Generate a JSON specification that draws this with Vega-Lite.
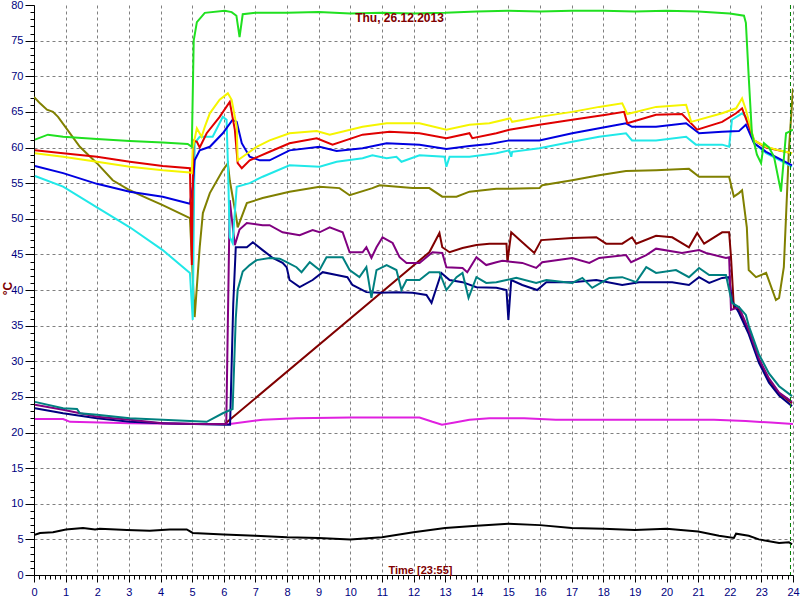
{
 "$schema": "https://vega.github.io/schema/vega-lite/v6.json",
 "width": 759, "height": 570,
 "autosize": "none",
 "padding": {"left": 34, "top": 5, "right": 7, "bottom": 25},
 "background": "#ffffff",
 "title": {"text": "Thu, 26.12.2013", "font": "Liberation Sans", "fontSize": 12, "fontWeight": "bold", "color": "#800000", "anchor": "middle", "frame": "group", "offset": -26, "dx": -14},
 "config": {"view": {"stroke": null}},
 "datasets": {
  "marker": [{"t": 23.92}],
  "series": [
{"s":"K","h":0,"v":5.6},{"s":"K","h":0.19,"v":5.9},{"s":"K","h":0.6,"v":6},{"s":"K","h":1.01,"v":6.4},{"s":"K","h":1.55,"v":6.6},{"s":"K","h":1.93,"v":6.4},{"s":"K","h":2.08,"v":6.5},{"s":"K","h":2.94,"v":6.3},{"s":"K","h":3.66,"v":6.2},{"s":"K","h":4.29,"v":6.4},{"s":"K","h":4.83,"v":6.4},{"s":"K","h":5.02,"v":5.9},{"s":"K","h":6,"v":5.7},{"s":"K","h":7,"v":5.5},{"s":"K","h":8,"v":5.3},{"s":"K","h":9,"v":5.2},{"s":"K","h":10,"v":5.0},{"s":"K","h":11,"v":5.3},{"s":"K","h":12,"v":6},{"s":"K","h":13,"v":6.6},{"s":"K","h":14,"v":6.9},{"s":"K","h":15,"v":7.2},{"s":"K","h":16,"v":7},{"s":"K","h":17,"v":6.6},{"s":"K","h":18,"v":6.5},{"s":"K","h":19,"v":6.3},{"s":"K","h":20,"v":6.5},{"s":"K","h":21,"v":6.1},{"s":"K","h":21.66,"v":5.5},{"s":"K","h":22.13,"v":5.2},{"s":"K","h":22.2,"v":5.8},{"s":"K","h":22.6,"v":5.5},{"s":"K","h":22.92,"v":5},{"s":"K","h":23.56,"v":4.5},{"s":"K","h":23.87,"v":4.6},{"s":"K","h":23.97,"v":4.3},

{"s":"Mg","h":0.03,"v":21.9},{"s":"Mg","h":0.92,"v":21.9},{"s":"Mg","h":1.14,"v":21.5},{"s":"Mg","h":3.03,"v":21.3},{"s":"Mg","h":5.15,"v":21.2},{"s":"Mg","h":6.19,"v":21.2},{"s":"Mg","h":7.23,"v":21.8},{"s":"Mg","h":8.3,"v":22},{"s":"Mg","h":10,"v":22.1},{"s":"Mg","h":11.56,"v":22.1},{"s":"Mg","h":12.19,"v":22.1},{"s":"Mg","h":12.6,"v":21.5},{"s":"Mg","h":12.9,"v":21.1},{"s":"Mg","h":13.3,"v":21.4},{"s":"Mg","h":13.77,"v":21.8},{"s":"Mg","h":14.4,"v":22},{"s":"Mg","h":15.5,"v":22},{"s":"Mg","h":16.5,"v":21.8},{"s":"Mg","h":18,"v":21.8},{"s":"Mg","h":20,"v":21.8},{"s":"Mg","h":21.5,"v":21.8},{"s":"Mg","h":22.5,"v":21.6},{"s":"Mg","h":23.3,"v":21.4},{"s":"Mg","h":24,"v":21.2},

{"s":"M","h":6.03,"v":21.2},{"s":"M","h":12.5,"v":45.3},{"s":"M","h":12.82,"v":48},{"s":"M","h":12.91,"v":46},{"s":"M","h":13.14,"v":45.3},{"s":"M","h":13.55,"v":45.9},{"s":"M","h":13.99,"v":46.3},{"s":"M","h":14.4,"v":46.5},{"s":"M","h":14.94,"v":46.5},{"s":"M","h":14.97,"v":43.9},{"s":"M","h":15.09,"v":48.1},{"s":"M","h":15.44,"v":46.7},{"s":"M","h":15.82,"v":45.2},{"s":"M","h":16.04,"v":47},{"s":"M","h":17.02,"v":47.3},{"s":"M","h":17.78,"v":47.4},{"s":"M","h":18.09,"v":46.5},{"s":"M","h":18.6,"v":46.5},{"s":"M","h":18.91,"v":47.4},{"s":"M","h":19.04,"v":46.5},{"s":"M","h":19.67,"v":47.6},{"s":"M","h":20.18,"v":47.4},{"s":"M","h":20.71,"v":46},{"s":"M","h":20.97,"v":48},{"s":"M","h":21.19,"v":46.5},{"s":"M","h":21.76,"v":48.1},{"s":"M","h":21.98,"v":48.1},{"s":"M","h":22.04,"v":44.6},{"s":"M","h":22.13,"v":37.5},{"s":"M","h":22.29,"v":37.3},{"s":"M","h":22.6,"v":34.2},{"s":"M","h":22.92,"v":30.2},{"s":"M","h":23.24,"v":27.4},{"s":"M","h":23.56,"v":25.5},{"s":"M","h":23.97,"v":24.1},

{"s":"N","h":0.03,"v":23.4},{"s":"N","h":0.92,"v":22.7},{"s":"N","h":1.99,"v":22},{"s":"N","h":3.03,"v":21.5},{"s":"N","h":4.07,"v":21.3},{"s":"N","h":6.03,"v":21.1},{"s":"N","h":6.2,"v":21.1},{"s":"N","h":6.3,"v":38},{"s":"N","h":6.38,"v":46},{"s":"N","h":6.73,"v":46},{"s":"N","h":6.92,"v":46.7},{"s":"N","h":7.23,"v":45.6},{"s":"N","h":7.55,"v":44.5},{"s":"N","h":7.86,"v":43.8},{"s":"N","h":7.99,"v":43.2},{"s":"N","h":8.08,"v":41.4},{"s":"N","h":8.4,"v":40.4},{"s":"N","h":8.81,"v":41.4},{"s":"N","h":9.13,"v":42.5},{"s":"N","h":9.57,"v":42.1},{"s":"N","h":9.91,"v":41.8},{"s":"N","h":10.07,"v":40.7},{"s":"N","h":10.51,"v":39.7},{"s":"N","h":10.93,"v":39.6},{"s":"N","h":11.46,"v":39.7},{"s":"N","h":11.97,"v":39.6},{"s":"N","h":12.41,"v":39.3},{"s":"N","h":12.57,"v":38.2},{"s":"N","h":12.88,"v":42.4},{"s":"N","h":13.14,"v":41.4},{"s":"N","h":13.55,"v":41.1},{"s":"N","h":13.99,"v":40.4},{"s":"N","h":14.62,"v":40.3},{"s":"N","h":14.94,"v":40},{"s":"N","h":15,"v":35.8},{"s":"N","h":15.09,"v":41.4},{"s":"N","h":15.44,"v":40.7},{"s":"N","h":15.91,"v":40},{"s":"N","h":16.2,"v":41.1},{"s":"N","h":17.02,"v":41.1},{"s":"N","h":17.78,"v":41.4},{"s":"N","h":18.6,"v":40.7},{"s":"N","h":19.13,"v":41.1},{"s":"N","h":20.18,"v":41.1},{"s":"N","h":20.71,"v":40.7},{"s":"N","h":21.03,"v":41.8},{"s":"N","h":21.35,"v":41},{"s":"N","h":21.76,"v":41.7},{"s":"N","h":21.98,"v":41.8},{"s":"N","h":22.07,"v":38.5},{"s":"N","h":22.2,"v":37.5},{"s":"N","h":22.29,"v":36.8},{"s":"N","h":22.6,"v":33.8},{"s":"N","h":22.92,"v":29.8},{"s":"N","h":23.24,"v":27},{"s":"N","h":23.56,"v":25.2},{"s":"N","h":23.97,"v":23.7},

{"s":"P","h":0.03,"v":23.9},{"s":"P","h":0.92,"v":23.2},{"s":"P","h":1.99,"v":22.2},{"s":"P","h":3.03,"v":21.8},{"s":"P","h":4.07,"v":21.3},{"s":"P","h":5.15,"v":21.2},{"s":"P","h":6.08,"v":21.2},{"s":"P","h":6.19,"v":52.6},{"s":"P","h":6.35,"v":46.3},{"s":"P","h":6.5,"v":48.5},{"s":"P","h":6.73,"v":49.4},{"s":"P","h":7.23,"v":49.1},{"s":"P","h":7.45,"v":49.1},{"s":"P","h":7.86,"v":48.1},{"s":"P","h":8.4,"v":47.7},{"s":"P","h":8.81,"v":48.4},{"s":"P","h":9.03,"v":48.1},{"s":"P","h":9.35,"v":48.8},{"s":"P","h":9.76,"v":48.1},{"s":"P","h":9.98,"v":45.3},{"s":"P","h":10.39,"v":45.3},{"s":"P","h":10.51,"v":46},{"s":"P","h":10.67,"v":44.5},{"s":"P","h":10.83,"v":46},{"s":"P","h":11.02,"v":47.4},{"s":"P","h":11.34,"v":46.6},{"s":"P","h":11.56,"v":44.6},{"s":"P","h":11.78,"v":43.8},{"s":"P","h":12.19,"v":43.8},{"s":"P","h":12.6,"v":45.3},{"s":"P","h":12.91,"v":45.2},{"s":"P","h":13.04,"v":43.2},{"s":"P","h":13.55,"v":43.1},{"s":"P","h":13.7,"v":42.5},{"s":"P","h":13.99,"v":44.6},{"s":"P","h":14.3,"v":43.5},{"s":"P","h":14.62,"v":43.9},{"s":"P","h":14.81,"v":44.1},{"s":"P","h":15.44,"v":43.8},{"s":"P","h":15.88,"v":43.1},{"s":"P","h":16.07,"v":43.9},{"s":"P","h":17.02,"v":44.5},{"s":"P","h":17.56,"v":43.8},{"s":"P","h":17.87,"v":44.5},{"s":"P","h":18.72,"v":44.9},{"s":"P","h":18.88,"v":43.9},{"s":"P","h":19.36,"v":44.9},{"s":"P","h":19.67,"v":45.8},{"s":"P","h":20.49,"v":45.2},{"s":"P","h":21.03,"v":45.6},{"s":"P","h":21.25,"v":45.2},{"s":"P","h":21.88,"v":44.5},{"s":"P","h":21.98,"v":44.6},{"s":"P","h":22.04,"v":37.2},{"s":"P","h":22.29,"v":37.6},{"s":"P","h":22.6,"v":34.4},{"s":"P","h":22.92,"v":30.4},{"s":"P","h":23.24,"v":27.6},{"s":"P","h":23.56,"v":25.6},{"s":"P","h":23.97,"v":24.3},

{"s":"T","h":0.03,"v":24.3},{"s":"T","h":0.92,"v":23.4},{"s":"T","h":1.36,"v":23.3},{"s":"T","h":1.45,"v":22.7},{"s":"T","h":1.99,"v":22.5},{"s":"T","h":3.03,"v":22},{"s":"T","h":4.07,"v":21.8},{"s":"T","h":5.46,"v":21.5},{"s":"T","h":5.97,"v":22.7},{"s":"T","h":6.28,"v":23.3},{"s":"T","h":6.38,"v":36},{"s":"T","h":6.44,"v":40},{"s":"T","h":6.6,"v":42.6},{"s":"T","h":6.82,"v":43.5},{"s":"T","h":7.04,"v":44.2},{"s":"T","h":7.45,"v":44.5},{"s":"T","h":7.77,"v":44.4},{"s":"T","h":7.99,"v":43.9},{"s":"T","h":8.3,"v":43.2},{"s":"T","h":8.46,"v":42.5},{"s":"T","h":8.72,"v":43.9},{"s":"T","h":9.03,"v":42.8},{"s":"T","h":9.25,"v":44.6},{"s":"T","h":9.76,"v":44.6},{"s":"T","h":9.98,"v":42.8},{"s":"T","h":10.29,"v":41.8},{"s":"T","h":10.51,"v":43.2},{"s":"T","h":10.67,"v":38.9},{"s":"T","h":10.83,"v":42.8},{"s":"T","h":11.15,"v":43.5},{"s":"T","h":11.46,"v":42.8},{"s":"T","h":11.62,"v":40},{"s":"T","h":11.78,"v":41.4},{"s":"T","h":12.19,"v":41.4},{"s":"T","h":12.5,"v":42.5},{"s":"T","h":12.82,"v":42.5},{"s":"T","h":13.04,"v":40},{"s":"T","h":13.36,"v":41.8},{"s":"T","h":13.55,"v":42.4},{"s":"T","h":13.74,"v":38.9},{"s":"T","h":13.99,"v":41.8},{"s":"T","h":14.3,"v":41},{"s":"T","h":14.62,"v":41.1},{"s":"T","h":14.94,"v":41.4},{"s":"T","h":15.25,"v":41.7},{"s":"T","h":15.88,"v":41},{"s":"T","h":16.2,"v":41.4},{"s":"T","h":17.02,"v":41},{"s":"T","h":17.34,"v":41.7},{"s":"T","h":17.65,"v":40.3},{"s":"T","h":18.19,"v":41.7},{"s":"T","h":18.6,"v":41.8},{"s":"T","h":19.04,"v":41.1},{"s":"T","h":19.36,"v":43.2},{"s":"T","h":19.67,"v":42.4},{"s":"T","h":20.3,"v":42.8},{"s":"T","h":20.71,"v":41.8},{"s":"T","h":21.03,"v":43.1},{"s":"T","h":21.35,"v":42.1},{"s":"T","h":21.88,"v":42.1},{"s":"T","h":22.07,"v":38.2},{"s":"T","h":22.29,"v":37.6},{"s":"T","h":22.51,"v":36.5},{"s":"T","h":22.6,"v":35},{"s":"T","h":22.92,"v":31},{"s":"T","h":23.24,"v":28.3},{"s":"T","h":23.56,"v":26.5},{"s":"T","h":23.97,"v":25.1},

{"s":"O","h":0,"v":67.1},{"s":"O","h":0.19,"v":66.2},{"s":"O","h":0.41,"v":65.3},{"s":"O","h":0.6,"v":65},{"s":"O","h":0.76,"v":64.3},{"s":"O","h":1.45,"v":60.1},{"s":"O","h":1.99,"v":57.8},{"s":"O","h":2.49,"v":55.4},{"s":"O","h":3.03,"v":54},{"s":"O","h":3.57,"v":52.9},{"s":"O","h":4.07,"v":51.9},{"s":"O","h":4.93,"v":50.1},{"s":"O","h":5.08,"v":36.2},{"s":"O","h":5.24,"v":46},{"s":"O","h":5.34,"v":50.8},{"s":"O","h":5.56,"v":53.6},{"s":"O","h":5.97,"v":56.8},{"s":"O","h":6.13,"v":57.8},{"s":"O","h":6.19,"v":55.4},{"s":"O","h":6.41,"v":49.8},{"s":"O","h":6.44,"v":48.8},{"s":"O","h":6.73,"v":52.2},{"s":"O","h":7.23,"v":52.9},{"s":"O","h":8.08,"v":53.8},{"s":"O","h":9.03,"v":54.5},{"s":"O","h":9.66,"v":54.3},{"s":"O","h":9.98,"v":53.3},{"s":"O","h":10.7,"v":54.3},{"s":"O","h":10.93,"v":54.7},{"s":"O","h":11.97,"v":54.3},{"s":"O","h":12.5,"v":54.3},{"s":"O","h":12.91,"v":53.1},{"s":"O","h":13.36,"v":53.1},{"s":"O","h":13.77,"v":53.8},{"s":"O","h":14.62,"v":54.2},{"s":"O","h":15.03,"v":54.2},{"s":"O","h":15.98,"v":54.3},{"s":"O","h":16.07,"v":54.7},{"s":"O","h":17.02,"v":55.4},{"s":"O","h":17.87,"v":56.1},{"s":"O","h":18.72,"v":56.7},{"s":"O","h":19.67,"v":56.8},{"s":"O","h":20.71,"v":57},{"s":"O","h":21.03,"v":55.9},{"s":"O","h":21.98,"v":55.9},{"s":"O","h":22.13,"v":53.1},{"s":"O","h":22.29,"v":53.6},{"s":"O","h":22.39,"v":54},{"s":"O","h":22.54,"v":48.8},{"s":"O","h":22.6,"v":42.8},{"s":"O","h":22.83,"v":41.8},{"s":"O","h":23.15,"v":42.4},{"s":"O","h":23.46,"v":38.6},{"s":"O","h":23.56,"v":38.9},{"s":"O","h":23.71,"v":43.2},{"s":"O","h":23.87,"v":59.6},{"s":"O","h":24,"v":68.3},

{"s":"C","h":0.03,"v":56},{"s":"C","h":0.92,"v":54.5},{"s":"C","h":1.99,"v":51.6},{"s":"C","h":3.03,"v":48.8},{"s":"C","h":4.07,"v":45.6},{"s":"C","h":4.93,"v":42.4},{"s":"C","h":5.02,"v":35.8},{"s":"C","h":5.08,"v":60.6},{"s":"C","h":5.24,"v":61.5},{"s":"C","h":5.65,"v":61.5},{"s":"C","h":5.97,"v":64.3},{"s":"C","h":6.09,"v":63.9},{"s":"C","h":6.13,"v":57.8},{"s":"C","h":6.19,"v":47.4},{"s":"C","h":6.28,"v":46.6},{"s":"C","h":6.41,"v":54.5},{"s":"C","h":6.82,"v":55},{"s":"C","h":7.23,"v":55.9},{"s":"C","h":8.08,"v":57.5},{"s":"C","h":9.03,"v":57.3},{"s":"C","h":9.57,"v":58},{"s":"C","h":10.39,"v":58.5},{"s":"C","h":10.7,"v":58.9},{"s":"C","h":11.15,"v":58.5},{"s":"C","h":11.46,"v":58.7},{"s":"C","h":11.62,"v":58},{"s":"C","h":12.19,"v":58.9},{"s":"C","h":12.98,"v":58.7},{"s":"C","h":13.04,"v":57.3},{"s":"C","h":13.14,"v":58.7},{"s":"C","h":13.77,"v":58.7},{"s":"C","h":14.62,"v":59.2},{"s":"C","h":15.03,"v":59.6},{"s":"C","h":15.09,"v":58.7},{"s":"C","h":15.12,"v":59.4},{"s":"C","h":15.98,"v":59.9},{"s":"C","h":17.02,"v":60.8},{"s":"C","h":17.87,"v":61.5},{"s":"C","h":18.72,"v":62},{"s":"C","h":18.91,"v":61},{"s":"C","h":19.67,"v":61},{"s":"C","h":20.62,"v":61.5},{"s":"C","h":20.93,"v":60.4},{"s":"C","h":21.76,"v":60.4},{"s":"C","h":21.98,"v":60.1},{"s":"C","h":22.07,"v":63.9},{"s":"C","h":22.39,"v":64.8},{"s":"C","h":22.51,"v":64.3},{"s":"C","h":22.77,"v":60.6},{"s":"C","h":23.15,"v":59.2},{"s":"C","h":23.97,"v":57.3},

{"s":"B","h":0.03,"v":57.4},{"s":"B","h":0.92,"v":56.4},{"s":"B","h":1.99,"v":54.9},{"s":"B","h":3.03,"v":53.8},{"s":"B","h":4.07,"v":53.1},{"s":"B","h":4.93,"v":52.1},{"s":"B","h":5.02,"v":54.5},{"s":"B","h":5.08,"v":58.2},{"s":"B","h":5.24,"v":59.6},{"s":"B","h":5.56,"v":60.1},{"s":"B","h":5.97,"v":62},{"s":"B","h":6.28,"v":63.9},{"s":"B","h":6.41,"v":63.6},{"s":"B","h":6.57,"v":60.6},{"s":"B","h":6.82,"v":58.7},{"s":"B","h":7.14,"v":58.2},{"s":"B","h":7.45,"v":58.2},{"s":"B","h":8.08,"v":59.6},{"s":"B","h":9.03,"v":60.1},{"s":"B","h":9.57,"v":59.5},{"s":"B","h":10.39,"v":59.9},{"s":"B","h":11.15,"v":60.6},{"s":"B","h":12.19,"v":60.4},{"s":"B","h":13.04,"v":59.8},{"s":"B","h":13.77,"v":60.2},{"s":"B","h":14.4,"v":60.5},{"s":"B","h":15.03,"v":61},{"s":"B","h":15.98,"v":61},{"s":"B","h":17.02,"v":62},{"s":"B","h":17.87,"v":62.7},{"s":"B","h":18.72,"v":63.4},{"s":"B","h":18.91,"v":62.9},{"s":"B","h":19.67,"v":62.9},{"s":"B","h":20.62,"v":63.4},{"s":"B","h":21.03,"v":62},{"s":"B","h":21.76,"v":62.2},{"s":"B","h":22.29,"v":62.3},{"s":"B","h":22.51,"v":63.2},{"s":"B","h":22.77,"v":60.6},{"s":"B","h":23.15,"v":59.4},{"s":"B","h":23.97,"v":57.5},

{"s":"R","h":0.03,"v":59.6},{"s":"R","h":0.92,"v":59.2},{"s":"R","h":1.99,"v":58.7},{"s":"R","h":3.03,"v":58},{"s":"R","h":4.07,"v":57.4},{"s":"R","h":4.93,"v":57.1},{"s":"R","h":4.99,"v":43.5},{"s":"R","h":5.04,"v":61},{"s":"R","h":5.15,"v":60.8},{"s":"R","h":5.24,"v":60},{"s":"R","h":5.46,"v":62},{"s":"R","h":5.87,"v":64.3},{"s":"R","h":6.19,"v":66.4},{"s":"R","h":6.35,"v":62.5},{"s":"R","h":6.44,"v":57.8},{"s":"R","h":6.57,"v":57.1},{"s":"R","h":6.82,"v":58.2},{"s":"R","h":7.45,"v":59.4},{"s":"R","h":8.08,"v":60.6},{"s":"R","h":8.94,"v":61.3},{"s":"R","h":9.44,"v":60.4},{"s":"R","h":10.39,"v":61.8},{"s":"R","h":11.24,"v":62.2},{"s":"R","h":12.19,"v":62},{"s":"R","h":13.04,"v":61.3},{"s":"R","h":13.77,"v":62},{"s":"R","h":13.86,"v":61.3},{"s":"R","h":14.62,"v":62},{"s":"R","h":15.03,"v":62.5},{"s":"R","h":15.98,"v":63.2},{"s":"R","h":17.02,"v":63.9},{"s":"R","h":18.09,"v":64.6},{"s":"R","h":18.66,"v":65},{"s":"R","h":18.76,"v":63.4},{"s":"R","h":19.67,"v":64.6},{"s":"R","h":20.49,"v":64.7},{"s":"R","h":20.97,"v":62.5},{"s":"R","h":21.76,"v":63.6},{"s":"R","h":22.2,"v":64.8},{"s":"R","h":22.39,"v":65.5},{"s":"R","h":22.51,"v":64.1},{"s":"R","h":22.77,"v":61},{"s":"R","h":23.15,"v":60},{"s":"R","h":23.97,"v":59.2},

{"s":"Y","h":0.03,"v":59.2},{"s":"Y","h":0.92,"v":58.7},{"s":"Y","h":1.99,"v":58},{"s":"Y","h":3.03,"v":57.3},{"s":"Y","h":4.07,"v":56.8},{"s":"Y","h":4.93,"v":56.5},{"s":"Y","h":4.99,"v":56.4},{"s":"Y","h":5.02,"v":60},{"s":"Y","h":5.15,"v":62.7},{"s":"Y","h":5.3,"v":61.5},{"s":"Y","h":5.4,"v":62.9},{"s":"Y","h":5.56,"v":64.8},{"s":"Y","h":5.87,"v":66.7},{"s":"Y","h":6.13,"v":67.6},{"s":"Y","h":6.25,"v":66.7},{"s":"Y","h":6.41,"v":62.9},{"s":"Y","h":6.44,"v":58.2},{"s":"Y","h":6.6,"v":58.7},{"s":"Y","h":7.04,"v":60.1},{"s":"Y","h":7.45,"v":61},{"s":"Y","h":8.08,"v":62},{"s":"Y","h":8.94,"v":62.3},{"s":"Y","h":9.35,"v":61.8},{"s":"Y","h":10.39,"v":62.9},{"s":"Y","h":11.15,"v":63.4},{"s":"Y","h":12.19,"v":63.4},{"s":"Y","h":13.04,"v":62.5},{"s":"Y","h":13.77,"v":63.2},{"s":"Y","h":14.4,"v":63.4},{"s":"Y","h":15.06,"v":64.1},{"s":"Y","h":15.12,"v":63.6},{"s":"Y","h":15.98,"v":64.3},{"s":"Y","h":17.02,"v":65},{"s":"Y","h":17.87,"v":65.7},{"s":"Y","h":18.6,"v":66.2},{"s":"Y","h":18.76,"v":64.7},{"s":"Y","h":19.67,"v":65.7},{"s":"Y","h":20.62,"v":66},{"s":"Y","h":20.78,"v":63.6},{"s":"Y","h":21.76,"v":64.8},{"s":"Y","h":22.2,"v":65.5},{"s":"Y","h":22.39,"v":66.9},{"s":"Y","h":22.51,"v":65.3},{"s":"Y","h":22.77,"v":61},{"s":"Y","h":23.15,"v":60.1},{"s":"Y","h":23.56,"v":59.6},{"s":"Y","h":23.97,"v":59.2},

{"s":"G","h":0.03,"v":61.1},{"s":"G","h":0.44,"v":61.8},{"s":"G","h":0.92,"v":61.5},{"s":"G","h":1.99,"v":61.2},{"s":"G","h":3.03,"v":60.9},{"s":"G","h":4.07,"v":60.7},{"s":"G","h":4.86,"v":60.5},{"s":"G","h":4.99,"v":60.1},{"s":"G","h":5.05,"v":75},{"s":"G","h":5.15,"v":77.6},{"s":"G","h":5.4,"v":78.9},{"s":"G","h":6.03,"v":79.2},{"s":"G","h":6.25,"v":79},{"s":"G","h":6.4,"v":78.5},{"s":"G","h":6.5,"v":75.5},{"s":"G","h":6.6,"v":78.7},{"s":"G","h":7,"v":78.9},{"s":"G","h":8,"v":78.9},{"s":"G","h":9,"v":79},{"s":"G","h":10,"v":78.8},{"s":"G","h":11,"v":78.9},{"s":"G","h":12,"v":78.8},{"s":"G","h":13,"v":78.9},{"s":"G","h":14,"v":79.1},{"s":"G","h":15,"v":79.2},{"s":"G","h":16,"v":79.1},{"s":"G","h":17,"v":79.2},{"s":"G","h":18,"v":79.2},{"s":"G","h":19,"v":79.1},{"s":"G","h":20,"v":79.2},{"s":"G","h":21,"v":79.1},{"s":"G","h":22,"v":78.8},{"s":"G","h":22.45,"v":78.5},{"s":"G","h":22.51,"v":77.5},{"s":"G","h":22.6,"v":69.9},{"s":"G","h":22.7,"v":62},{"s":"G","h":22.86,"v":59},{"s":"G","h":22.99,"v":57.8},{"s":"G","h":23.08,"v":60.6},{"s":"G","h":23.24,"v":60},{"s":"G","h":23.4,"v":58.7},{"s":"G","h":23.62,"v":53.8},{"s":"G","h":23.78,"v":62},{"s":"G","h":23.87,"v":62.2},{"s":"G","h":24,"v":62.5}
  ]
 },
 "layer": [
  {
   "data": {"name": "series"},
   "mark": {"type": "line", "strokeWidth": 2, "clip": true},
   "encoding": {
    "x": {"field": "h", "type": "quantitative",
     "scale": {"domain": [0, 24], "nice": false, "zero": false},
     "axis": {
      "values": [0,0.1667,0.3333,0.5,0.6667,0.8333,1,1.1667,1.3333,1.5,1.6667,1.8333,2,2.1667,2.3333,2.5,2.6667,2.8333,3,3.1667,3.3333,3.5,3.6667,3.8333,4,4.1667,4.3333,4.5,4.6667,4.8333,5,5.1667,5.3333,5.5,5.6667,5.8333,6,6.1667,6.3333,6.5,6.6667,6.8333,7,7.1667,7.3333,7.5,7.6667,7.8333,8,8.1667,8.3333,8.5,8.6667,8.8333,9,9.1667,9.3333,9.5,9.6667,9.8333,10,10.1667,10.3333,10.5,10.6667,10.8333,11,11.1667,11.3333,11.5,11.6667,11.8333,12,12.1667,12.3333,12.5,12.6667,12.8333,13,13.1667,13.3333,13.5,13.6667,13.8333,14,14.1667,14.3333,14.5,14.6667,14.8333,15,15.1667,15.3333,15.5,15.6667,15.8333,16,16.1667,16.3333,16.5,16.6667,16.8333,17,17.1667,17.3333,17.5,17.6667,17.8333,18,18.1667,18.3333,18.5,18.6667,18.8333,19,19.1667,19.3333,19.5,19.6667,19.8333,20,20.1667,20.3333,20.5,20.6667,20.8333,21,21.1667,21.3333,21.5,21.6667,21.8333,22,22.1667,22.3333,22.5,22.6667,22.8333,23,23.1667,23.3333,23.5,23.6667,23.8333,24],
      "tickCount": 400,
      "labelExpr": "datum.value % 1 === 0 ? '' + datum.value : ''",
      "tickSize": 7,
      "tickDash": {"condition": {"test": "datum.value % 1 !== 0", "value": [4, 10]}, "value": [10, 0]},
      "gridOpacity": {"condition": {"test": "datum.value % 1 === 0", "value": 1}, "value": 0},
      "grid": true, "gridColor": "#808080", "gridDash": [3, 3], "gridWidth": 1,
      "domainColor": "#000000", "domainWidth": 1, "tickColor": "#000000", "tickWidth": 1,
      "labelColor": "#000080", "labelFont": "Liberation Sans", "labelFontSize": 11, "labelPadding": 4, "labelFlush": false, "labelOverlap": false,
      "title": "Time [23:55]", "titleColor": "#800000", "titleFont": "Liberation Sans", "titleFontSize": 11, "titleFontWeight": "bold",
      "titleX": 386, "titleY": -2, "titleAlign": "center", "titleBaseline": "alphabetic"
     }},
    "y": {"field": "v", "type": "quantitative",
     "scale": {"domain": [0, 80], "nice": false},
     "axis": {
      "values": [0,1,2,3,4,5,6,7,8,9,10,11,12,13,14,15,16,17,18,19,20,21,22,23,24,25,26,27,28,29,30,31,32,33,34,35,36,37,38,39,40,41,42,43,44,45,46,47,48,49,50,51,52,53,54,55,56,57,58,59,60,61,62,63,64,65,66,67,68,69,70,71,72,73,74,75,76,77,78,79,80],
      "tickCount": 400,
      "labelExpr": "datum.value % 5 === 0 ? '' + datum.value : ''",
      "tickSize": 9,
      "tickDash": {"condition": {"test": "datum.value % 5 !== 0", "value": [4, 20]}, "value": [20, 0]},
      "gridOpacity": {"condition": {"test": "datum.value % 5 === 0 && datum.value < 80", "value": 1}, "value": 0},
      "grid": true, "gridColor": "#808080", "gridDash": [3, 3], "gridWidth": 1,
      "domainColor": "#000000", "domainWidth": 1, "tickColor": "#000000", "tickWidth": 1,
      "labelColor": "#000080", "labelFont": "Liberation Sans", "labelFontSize": 11, "labelPadding": 2, "labelFlush": false, "labelOverlap": false,
      "title": "°C", "titleColor": "#800000", "titleFont": "Liberation Sans", "titleFontSize": 12, "titleFontWeight": "bold",
      "titleAngle": 270, "titleX": -27, "titleY": 283, "titleAlign": "center", "titleBaseline": "middle"
     }},
    "color": {"field": "s", "type": "nominal", "legend": null,
     "scale": {"domain": ["K","Mg","M","N","P","T","O","C","B","R","Y","G"],
               "range": ["#000000","#e020e0","#800000","#000080","#800080","#008080","#808000","#20e8e8","#0000e0","#e00000","#f5f500","#20e020"]}}
   }
  },
  {
   "data": {"name": "marker"},
   "mark": {"type": "rule", "color": "#008000", "strokeDash": [4, 3], "strokeWidth": 1},
   "encoding": {"x": {"field": "t", "type": "quantitative"}}
  }
 ]
}
